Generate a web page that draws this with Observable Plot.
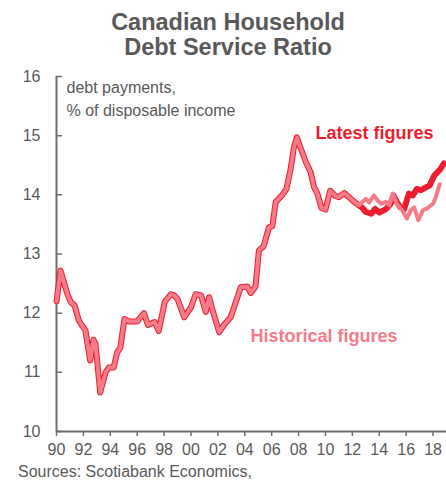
<!DOCTYPE html>
<html>
<head>
<meta charset="utf-8">
<script src="https://cdn.jsdelivr.net/npm/d3@7"></script>
<script src="https://cdn.jsdelivr.net/npm/@observablehq/plot@0.6"></script>
<style>
  body { margin: 0; background: #fff; font-family: "Liberation Sans", Arial, sans-serif; }
  #wrap { width: 446px; height: 482px; overflow: hidden; }
  #title { height: 52px; padding-top: 10px; text-align: center; padding-left: 10px; box-sizing: content-box;
           font-weight: bold; font-size: 23.5px; line-height: 25px; color: #595959; }
  #caption { padding-left: 18px; font-size: 16px; line-height: 20px; color: #595959; }
  svg { display: block; }
</style>
</head>
<body>
<div id="wrap">
  <div id="title">Canadian Household<br>Debt Service Ratio</div>
  <div id="chart"></div>
  <div id="caption">Sources: Scotiabank Economics,</div>
</div>
<script>
// Shared history (both vintages identical up to mid-2012)
const sharedT = [1990.0, 1990.3, 1990.8, 1991.05, 1991.35, 1991.65, 1991.9, 1992.15, 1992.5, 1992.75, 1992.9, 1993.25, 1993.65, 1993.9, 1994.25, 1994.5, 1994.75, 1995.05, 1995.4, 1996.0, 1996.5, 1996.8, 1997.3, 1997.6, 1998.05, 1998.5, 1998.75, 1999.0, 1999.5, 2000.0, 2000.35, 2000.75, 2001.1, 2001.35, 2001.6, 2002.1, 2002.45, 2002.95, 2003.35, 2003.7, 2004.2, 2004.45, 2004.8, 2005.05, 2005.4, 2005.8, 2006.05, 2006.3, 2006.8, 2007.1, 2007.4, 2007.65, 2007.87, 2008.17, 2008.55, 2008.9, 2009.15, 2009.4, 2009.7, 2010.0, 2010.35, 2010.75, 2011.0, 2011.4, 2011.75, 2012.15, 2012.5];
const sharedV = [12.2, 12.72, 12.33, 12.19, 12.13, 11.88, 11.79, 11.71, 11.2, 11.55, 11.48, 10.66, 11.0, 11.08, 11.08, 11.33, 11.42, 11.9, 11.86, 11.86, 12.0, 11.8, 11.85, 11.7, 12.19, 12.32, 12.3, 12.24, 11.93, 12.1, 12.32, 12.3, 12.02, 12.27, 12.05, 11.68, 11.8, 11.93, 12.2, 12.44, 12.45, 12.34, 12.45, 13.06, 13.13, 13.45, 13.47, 13.88, 14.0, 14.1, 14.42, 14.8, 14.97, 14.78, 14.55, 14.38, 14.13, 14.02, 13.78, 13.75, 14.07, 13.98, 13.96, 14.03, 13.96, 13.88, 13.82];

// Latest figures after divergence
const latestT = [2012.75, 2013.0, 2013.4, 2013.7, 2014.0, 2014.5, 2014.85, 2015.05, 2015.3, 2015.55, 2015.85, 2016.2, 2016.5, 2016.8, 2017.1, 2017.5, 2017.75, 2018.1, 2018.5, 2018.8];
const latestV = [13.78, 13.71, 13.68, 13.76, 13.7, 13.76, 13.85, 13.99, 13.88, 13.79, 13.76, 14.02, 13.99, 14.1, 14.08, 14.13, 14.16, 14.33, 14.42, 14.53];

// Historical figures after divergence
const histT = [2012.75, 2013.0, 2013.25, 2013.6, 2013.9, 2014.15, 2014.5, 2014.75, 2015.0, 2015.3, 2015.7, 2016.05, 2016.35, 2016.6, 2016.9, 2017.25, 2017.55, 2018.0, 2018.2, 2018.5];
const histV = [13.88, 13.93, 13.87, 13.99, 13.9, 13.85, 13.88, 13.82, 14.02, 13.85, 13.74, 13.6, 13.74, 13.79, 13.57, 13.74, 13.77, 13.85, 13.96, 14.18];

const xDomain = [1990, 2019];
const yDomain = [10, 16];
const xTicks = [1990, 1992, 1994, 1996, 1998, 2000, 2002, 2004, 2006, 2008, 2010, 2012, 2014, 2016, 2018];
const yTicks = [10, 11, 12, 13, 14, 15, 16];

const unitNote = ["debt payments,\n% of disposable income"];
const seriesLabels = ["Latest figures", "Historical figures"];
const labelT = [2009.26, 2004.42];
const labelV = [15.04, 11.61];

const RED = "#ed1c2e";
const PINK = "#f67b88";
const GREY = "#595959";
const AXIS = "#6e6e6e";

const pairs = (T, V) => T.map((t, i) => ({t, v: V[i]}));
const latest = pairs(sharedT.concat(latestT), sharedV.concat(latestV));
const historical = pairs(sharedT.concat(histT), sharedV.concat(histV));
const labels = seriesLabels.map((s, i) => ({s, t: labelT[i], v: labelV[i]}));

const tickRight = { draw(context, l) { context.moveTo(0, 0); context.lineTo(0, -l); } };

const chart = Plot.plot({
  width: 446,
  height: 400,
  marginLeft: 56,
  marginRight: 0,
  marginTop: 14,
  marginBottom: 31,
  style: { fontFamily: "'Liberation Sans', Arial, sans-serif", fontSize: "16px", color: GREY, background: "white" },
  x: { domain: xDomain },
  y: { domain: yDomain },
  marks: [
    Plot.axisY({ ticks: yTicks, tickSize: 0, tickPadding: 16, label: null, fontSize: 16, tickFormat: d => String(d) }),
    Plot.axisX({ ticks: xTicks, tickSize: 5, tickPadding: 7, label: null, stroke: AXIS, strokeWidth: 1.5,
                 fontSize: 16, tickFormat: d => String(d).slice(2) }),
    Plot.vector(yTicks, { y: d => d, frameAnchor: "left", length: 5, rotate: 90, anchor: "start",
                          shape: tickRight, stroke: AXIS, strokeWidth: 1.5 }),
    Plot.ruleX([xDomain[0]], { stroke: AXIS, strokeWidth: 2 }),
    Plot.ruleY([yDomain[0]], { stroke: AXIS, strokeWidth: 2 }),
    Plot.text(unitNote, { text: d => d, frameAnchor: "top-left", textAnchor: "start", lineAnchor: "top",
                          dx: 10, dy: 0, lineHeight: 1.45, fontSize: 16, fill: GREY }),
    Plot.line(latest, { x: "t", y: "v", stroke: RED, strokeWidth: 6, strokeLinejoin: "round", strokeLinecap: "round" }),
    Plot.line(historical, { x: "t", y: "v", stroke: PINK, strokeWidth: 4, strokeLinejoin: "round", strokeLinecap: "round" }),
    Plot.text(labels, { x: "t", y: "v", text: "s", textAnchor: "start", fontWeight: "bold", fontSize: 18,
                        fill: (d, i) => i === 0 ? RED : PINK })
  ]
});
document.getElementById("chart").appendChild(chart);
</script>
</body>
</html>
